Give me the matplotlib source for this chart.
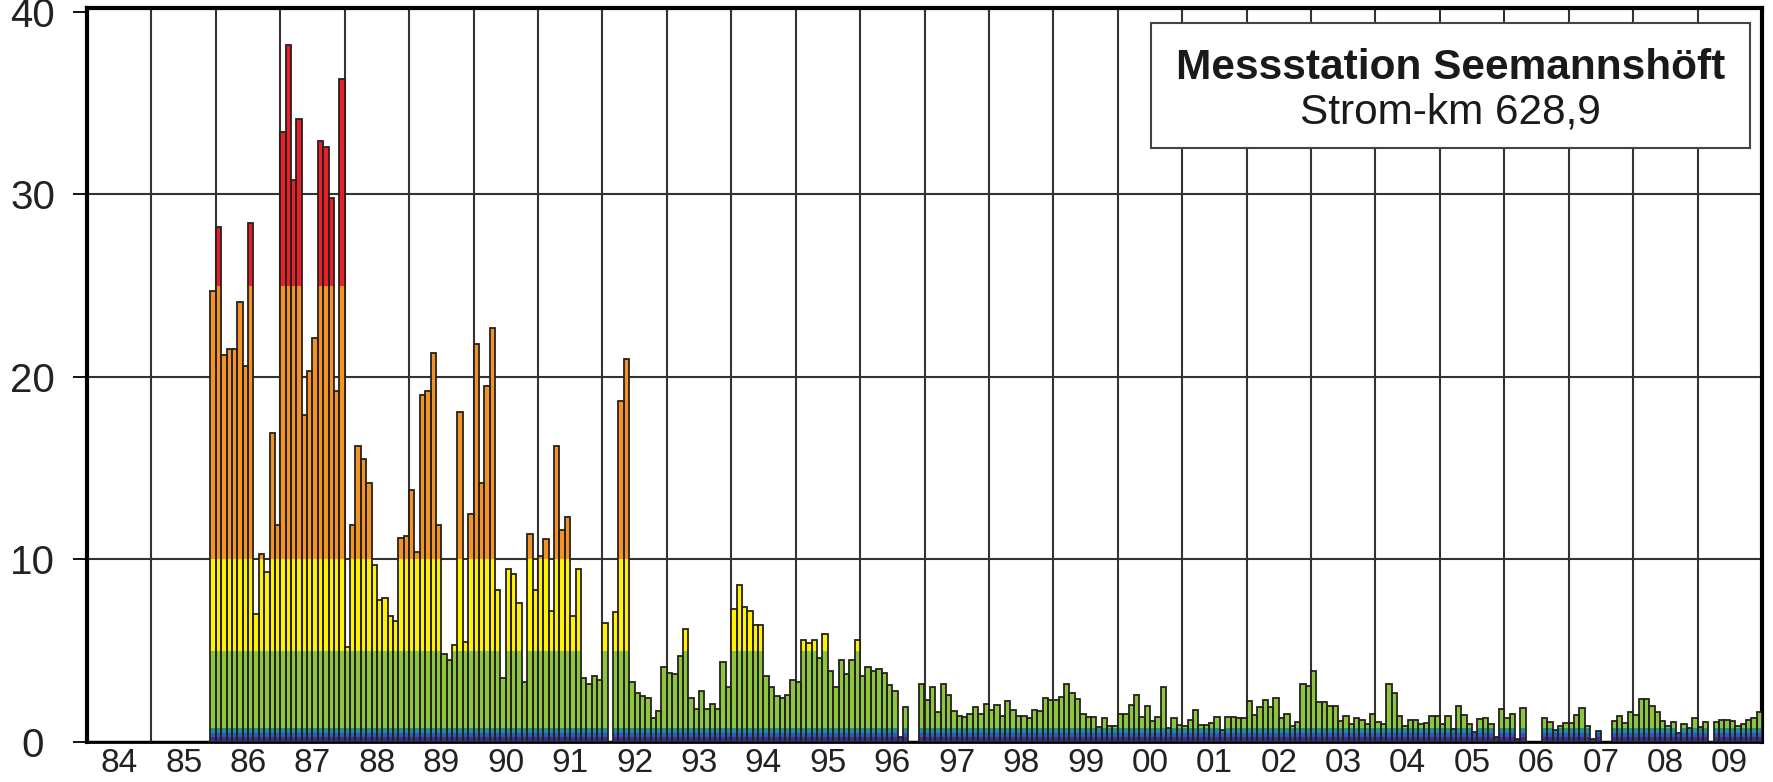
import numpy as np
from matplotlib import pyplot as plt
from matplotlib.patches import Rectangle

nan = np.nan

firstYear = 1985
values1985 = [nan, nan, nan, nan, nan, nan, nan, nan, nan, nan, nan, 24.7]
values1986 = [28.2, 21.2, 21.5, 21.5, 24.1, 20.6, 28.4, 7.0, 10.3, 9.3, 16.9, 11.9]
values1987 = [33.4, 38.2, 30.8, 34.1, 17.9, 20.3, 22.1, 32.9, 32.6, 29.8, 19.2, 36.3]
values1988 = [5.2, 11.9, 16.2, 15.5, 14.2, 9.7, 7.8, 7.9, 6.9, 6.6, 11.2, 11.3]
values1989 = [13.8, 10.4, 19.0, 19.2, 21.3, 11.9, 4.8, 4.5, 5.3, 18.1, 5.5, 12.5]
values1990 = [21.8, 14.2, 19.5, 22.7, 8.3, 3.5, 9.5, 9.2, 7.6, 3.3, 11.4, 8.3]
values1991 = [10.2, 11.1, 7.2, 16.2, 11.6, 12.3, 6.9, 9.5, 3.5, 3.2, 3.6, 3.4]
values1992 = [6.5, nan, 7.1, 18.7, 21.0, 3.3, 2.7, 2.5, 2.4, 1.3, 1.7, 4.1]
values1993 = [3.8, 3.7, 4.7, 6.2, 2.4, 1.8, 2.8, 1.8, 2.1, 1.8, 4.4, 3.0]
values1994 = [7.3, 8.6, 7.4, 7.2, 6.4, 6.4, 3.6, 3.0, 2.5, 2.4, 2.6, 3.4]
values1995 = [3.3, 5.6, 5.4, 5.6, 4.6, 5.9, 3.9, 3.0, 4.5, 3.7, 4.5, 5.6]
values1996 = [3.6, 4.1, 3.9, 4.0, 3.8, 3.1, 2.8, 0.3, 1.9, nan, nan, 3.2]
values1997 = [2.3, 3.0, 1.65, 3.2, 2.6, 1.7, 1.45, 1.35, 1.55, 1.9, 1.55, 2.1]
values1998 = [1.75, 2.05, 1.45, 2.25, 1.75, 1.45, 1.45, 1.3, 1.75, 1.7, 2.4, 2.3]
values1999 = [2.3, 2.45, 3.2, 2.7, 2.35, 1.55, 1.35, 1.35, 0.8, 1.3, 0.9, 0.85]
values2000 = [1.55, 1.55, 2.0, 2.6, 1.35, 1.95, 1.15, 1.35, 3.0, 0.75, 1.3, 0.95]
values2001 = [0.85, 1.2, 1.75, 0.95, 0.95, 1.05, 1.35, 0.65, 1.35, 1.35, 1.3, 1.3]
values2002 = [2.25, 1.5, 1.9, 2.3, 1.9, 2.4, 1.3, 1.55, 0.9, 1.1, 3.2, 3.05]
values2003 = [3.9, 2.2, 2.2, 1.95, 1.95, 1.15, 1.4, 1.0, 1.3, 1.2, 1.0, 1.55]
values2004 = [1.1, 1.0, 3.2, 2.7, 1.4, 0.85, 1.2, 1.2, 1.0, 1.05, 1.4, 1.4]
values2005 = [1.0, 1.4, 0.7, 1.95, 1.5, 1.0, 0.55, 1.25, 1.3, 1.0, 0.3, 1.8]
values2006 = [1.3, 1.55, 0.15, 1.85, nan, nan, nan, 1.3, 1.1, 0.65, 0.85, 1.05]
values2007 = [1.05, 1.5, 1.85, 0.9, 0.15, 0.6, nan, nan, 1.15, 1.4, 1.05, 1.65]
values2008 = [1.5, 2.35, 2.35, 1.95, 1.65, 1.15, 0.85, 1.1, 0.5, 1.0, 0.75, 1.3]
values2009 = [0.8, 1.1, nan, 1.1, 1.2, 1.2, 1.15, 0.9, 1.0, 1.2, 1.3, 1.65]

yearLabels = ['84', '85', '86', '87', '88', '89', '90', '91', '92', '93', '94', '95', '96',
              '97', '98', '99', '00', '01', '02', '03', '04', '05', '06', '07', '08', '09']

# Colour classes: upper limits and colours of each band
classLimits = [0.25, 0.5, 0.75, 5, 10, 25, 100]
classColours = ['#3b2f8f', '#2f55c8', '#1e8f8a', '#8cc63f', '#fff200', '#f39325', '#e8202a']


def CollectMonths():
    allYears = [values1985, values1986, values1987, values1988, values1989, values1990,
                values1991, values1992, values1993, values1994, values1995, values1996,
                values1997, values1998, values1999, values2000, values2001, values2002,
                values2003, values2004, values2005, values2006, values2007, values2008,
                values2009]
    values = np.array(allYears, dtype=float).ravel()
    # centre of each month as decimal year
    months = firstYear + (np.arange(len(values)) + 0.5) / 12.0
    ok = ~np.isnan(values)
    return months[ok], values[ok]


def DrawStackedBars(ax, months, values):
    width = 1.0 / 12.0
    lower = 0.0
    for upper, colour in zip(classLimits, classColours):
        part = np.clip(values, lower, upper) - lower
        ax.bar(months, part, width=width, bottom=lower, color=colour,
               linewidth=0, zorder=3)
        lower = upper
    # dark outline round every monthly bar
    ax.bar(months, values, width=width, fill=False, edgecolor='#26211d',
           linewidth=1.3, zorder=4)


if __name__ == "__main__":
    plt.rcParams['font.family'] = ['Liberation Sans', 'DejaVu Sans']

    fig = plt.figure(figsize=(17.73, 7.82), dpi=100)
    ax = fig.add_axes([87 / 1773, 40 / 782, 1675 / 1773, 734 / 782])

    months, values = CollectMonths()
    DrawStackedBars(ax, months, values)

    ax.set_xlim(1984, 2010)
    ax.set_ylim(0, 40.2)

    # grid: year boundaries and every 10 units
    for yr in range(1985, 2010):
        ax.axvline(yr, color='#333333', linewidth=1.5, zorder=1)
    for level in [10, 20, 30]:
        ax.axhline(level, color='#333333', linewidth=1.5, zorder=1)
    ax.axhline(0, color='black', linewidth=2.5, zorder=2)

    ax.set_yticks([0, 10, 20, 30, 40])
    ax.set_yticklabels(['0', '10', '20', '30', '40'], ha='center')
    ax.tick_params(axis='y', length=10, width=1.3, pad=29, labelsize=29,
                   labelcolor='#222222')

    ax.set_xticks(np.arange(1984, 2010) + 0.5)
    ax.set_xticklabels(yearLabels)
    ax.tick_params(axis='x', length=0, pad=4, labelsize=24, labelcolor='#222222')

    for side in ['left', 'top', 'right']:
        ax.spines[side].set_linewidth(3.0)
    ax.spines['bottom'].set_linewidth(2.0)

    # station label box
    box = Rectangle((0.635, 0.809), 0.358, 0.171, transform=ax.transAxes,
                    facecolor='white', edgecolor='#444444', linewidth=1.5, zorder=6)
    ax.add_patch(box)
    ax.text(0.814, 0.918, 'Messstation Seemannshöft', transform=ax.transAxes,
            ha='center', va='center', fontsize=30.5, fontweight='bold',
            color='#1a1a1a', zorder=7)
    ax.text(0.814, 0.858, 'Strom-km 628,9', transform=ax.transAxes,
            ha='center', va='center', fontsize=30.5, color='#1a1a1a', zorder=7)

    fig.savefig('out.png', dpi=100)
